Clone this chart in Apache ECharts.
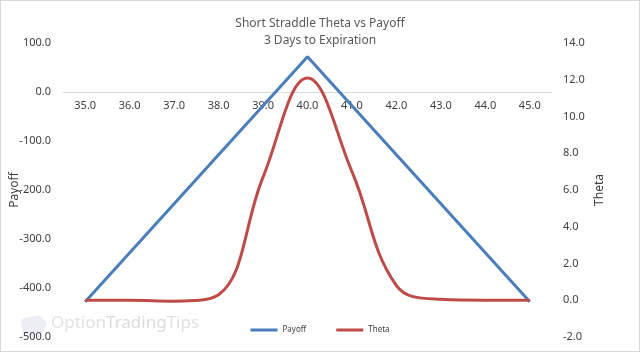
<!DOCTYPE html>
<html>
<head>
<meta charset="utf-8">
<script src="https://cdn.jsdelivr.net/npm/echarts@6/dist/echarts.min.js"></script>
<style>
  html, body { margin: 0; padding: 0; background: #fff; }
  #main { width: 640px; height: 352px; box-sizing: border-box; border: 1px solid #d9d9d9; }
</style>
</head>
<body>
<div id="main"></div>
<script>
// strike prices along the x axis
const strikes = ['35.0', '36.0', '37.0', '38.0', '39.0', '40.0', '41.0', '42.0', '43.0', '44.0', '45.0'];
// payoff at expiration (left axis)
const payoff = [-428, -328, -228, -128, -28, 72, -28, -128, -228, -328, -428];
// theta values (right axis)
const theta = [0, 0, -0.05, 0.3, 6.7, 12.1, 7.0, 0.8, 0.05, 0, 0];

const font = 'Noto Sans';
const textColor = '#404040';

// the category axis sits where payoff = 0, i.e. 100/600 of the plot height below the top
const plotTop = 42, plotHeight = 294;
const zeroOffset = plotHeight * 100 / 600;

const chart = echarts.init(document.getElementById('main'));

const option = {
  animation: false,
  title: {
    text: 'Short Straddle Theta vs Payoff\n3 Days to Expiration',
    left: 'center',
    top: 9,
    textStyle: { fontFamily: font, fontSize: 12, fontWeight: 'normal', color: '#595959', lineHeight: 17 }
  },
  legend: {
    bottom: 12,
    left: 'center',
    itemWidth: 27,
    itemHeight: 3,
    itemGap: 30,
    icon: 'rect',
    textStyle: { fontFamily: font, fontSize: 8, color: textColor },
    data: ['Payoff', 'Theta']
  },
  grid: { left: 62, right: 87, top: plotTop, height: plotHeight, containLabel: false, outerBoundsMode: 'none' },
  xAxis: {
    type: 'category',
    data: strikes,
    position: 'top',
    offset: -zeroOffset,
    boundaryGap: true,
    axisLine: { onZero: false, lineStyle: { color: '#d9d9d9', width: 1 } },
    axisTick: { show: false },
    axisLabel: { inside: true, fontFamily: font, fontSize: 11, color: textColor, margin: 8 }
  },
  yAxis: [
    {
      type: 'value',
      name: 'Payoff',
      nameLocation: 'middle',
      nameGap: 42,
      nameMoveOverlap: false,
      nameTextStyle: { fontFamily: font, fontSize: 12, color: textColor },
      min: -500,
      max: 100,
      interval: 100,
      splitLine: { show: false },
      axisLine: { show: false },
      axisTick: { show: false },
      axisLabel: { fontFamily: font, fontSize: 11, color: textColor, margin: 12, formatter: v => v.toFixed(1) }
    },
    {
      type: 'value',
      name: 'Theta',
      nameLocation: 'middle',
      nameGap: 42,
      nameMoveOverlap: false,
      nameRotate: 90,
      nameTextStyle: { fontFamily: font, fontSize: 12, color: textColor },
      min: -2,
      max: 14,
      interval: 2,
      splitLine: { show: false },
      axisLine: { show: false },
      axisTick: { show: false },
      axisLabel: { fontFamily: font, fontSize: 11, color: textColor, margin: 11, formatter: v => v.toFixed(1) }
    }
  ],
  series: [
    {
      name: 'Payoff',
      type: 'line',
      data: payoff,
      yAxisIndex: 0,
      showSymbol: false,
      symbol: 'none',
      lineStyle: { color: '#4a7ebb', width: 3 },
      itemStyle: { color: '#4a7ebb' }
    },
    {
      name: 'Theta',
      type: 'line',
      data: theta,
      yAxisIndex: 1,
      smooth: 0.4,
      showSymbol: false,
      symbol: 'none',
      lineStyle: { color: '#be4b48', width: 3 },
      itemStyle: { color: '#be4b48' }
    }
  ],
  graphic: [
    {
      type: 'text',
      left: 50,
      top: 314,
      z: -1,
      style: {
        text: '{a|Option}{b|Trading}{a|Tips}',
        rich: {
          a: { fontFamily: font, fontSize: 17, fill: '#e2e2e2' },
          b: { fontFamily: font, fontSize: 17, fill: '#dcdcdc' }
        }
      }
    },
    {
      type: 'polygon',
      z: -1,
      shape: { points: [[20, 318], [38, 314], [46, 322], [40, 336], [22, 336]] },
      style: { fill: '#eceef4' }
    }
  ]
};

chart.setOption(option);
</script>
</body>
</html>
